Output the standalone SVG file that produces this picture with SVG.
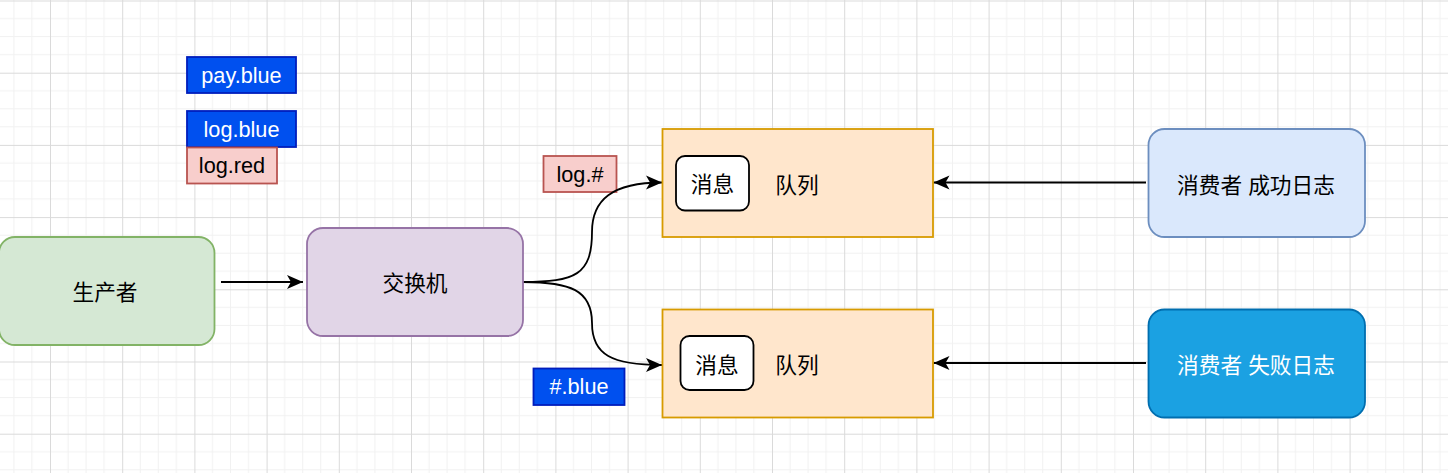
<svg xmlns="http://www.w3.org/2000/svg" width="1448" height="473" viewBox="0 0 1448 473">
<style>
text{font-family:"Liberation Sans","Noto Sans CJK SC",sans-serif;font-size:21.7px;text-anchor:middle;dominant-baseline:central;fill:#000}
.w{fill:#fff}
.blue{fill:#0050ef;stroke:#001dbc;stroke-width:1.8}
.red{fill:#f8cecc;stroke:#b85450;stroke-width:1.8}
.edge{fill:none;stroke:#000;stroke-width:1.8}
</style>
<defs>
<pattern id="grid" width="72.2" height="72.2" patternUnits="userSpaceOnUse" x="50" y="0.5">
<path d="M18.05 0V72.2M36.1 0V72.2M54.15 0V72.2M0 18.05H72.2M0 36.1H72.2M0 54.15H72.2" stroke="#f1f1f1" stroke-width="1" fill="none"/>
<path d="M0.5 0V72.2M0 0.5H72.2" stroke="#dadada" stroke-width="1" fill="none"/>
</pattern>
<marker id="arr" markerUnits="userSpaceOnUse" markerWidth="18" markerHeight="16" viewBox="0 0 18 16" refX="17" refY="8" orient="auto">
<path d="M1,1 L17,8 L1,15 L5,8 Z" fill="#000"/>
</marker>
</defs>
<rect width="1448" height="473" fill="#fff"/>
<rect width="1448" height="473" fill="url(#grid)"/>

<g id="labels">
<g id="lbl-pay-blue"><rect class="blue" x="187" y="57" width="109" height="36"/><text class="w" x="241.5" y="75">pay.blue</text></g>
<g id="lbl-log-blue"><rect class="blue" x="187" y="111" width="109" height="36"/><text class="w" x="241.5" y="129">log.blue</text></g>
<g id="lbl-log-red"><rect class="red" x="187" y="147.5" width="90" height="36"/><text x="232" y="165.5">log.red</text></g>
<g id="lbl-log-hash"><rect class="red" x="543.5" y="156" width="73" height="36"/><text x="580" y="174">log.#</text></g>
<g id="lbl-hash-blue"><rect class="blue" x="533.5" y="368.5" width="91" height="36.5"/><text class="w" x="579" y="386.5">#.blue</text></g>
</g>

<g id="connectors">
<path class="edge" d="M221,282 H303" marker-end="url(#arr)"/>
<path class="edge" d="M523,282 C575,282 592,275 592,232 C592,200 612,182.5 662,182.5" marker-end="url(#arr)"/>
<path class="edge" d="M523,282 C570,282 592,290 592,323 C592,355 612,365 662,365" marker-end="url(#arr)"/>
<path class="edge" d="M1146,182.5 H933.5" marker-end="url(#arr)"/>
<path class="edge" d="M1146,363 H933.5" marker-end="url(#arr)"/>
</g>

<g id="producer"><rect x="-1" y="237" width="215.5" height="108" rx="16" fill="#d5e8d4" stroke="#82b366" stroke-width="1.8"/><text x="105" y="292.5">生产者</text></g>
<g id="exchange"><rect x="307" y="228" width="216" height="108" rx="16" fill="#e1d5e7" stroke="#9673a6" stroke-width="1.8"/><text x="415" y="283">交换机</text></g>

<g id="queue1"><rect x="662.5" y="129" width="270.5" height="108" fill="#ffe6cc" stroke="#d79b00" stroke-width="1.8"/><text x="797" y="185">队列</text></g>
<g id="msg1"><rect x="676" y="156" width="73" height="54.5" rx="9" fill="#fff" stroke="#000" stroke-width="1.8"/><text x="712.5" y="184">消息</text></g>
<g id="queue2"><rect x="662.5" y="309.5" width="270.5" height="108" fill="#ffe6cc" stroke="#d79b00" stroke-width="1.8"/><text x="797" y="365">队列</text></g>
<g id="msg2"><rect x="680.5" y="336" width="73" height="54" rx="9" fill="#fff" stroke="#000" stroke-width="1.8"/><text x="717" y="365">消息</text></g>

<g id="consumer-ok"><rect x="1148.5" y="129" width="216.5" height="108" rx="16" fill="#dae8fc" stroke="#6c8ebf" stroke-width="1.8"/><text x="1256" y="185">消费者 成功日志</text></g>
<g id="consumer-fail"><rect x="1148.5" y="309.5" width="216.5" height="108" rx="16" fill="#1ba1e2" stroke="#006eaf" stroke-width="1.8"/><text class="w" x="1256" y="365">消费者 失败日志</text></g>
</svg>
